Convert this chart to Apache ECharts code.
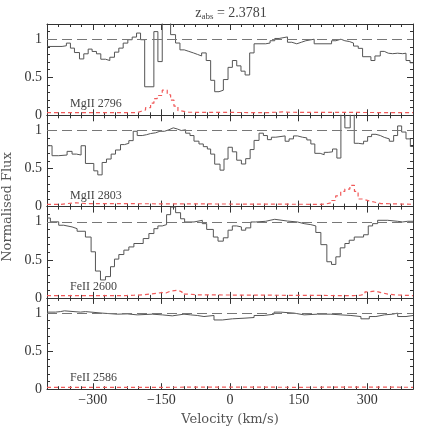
<!DOCTYPE html>
<html><head><meta charset="utf-8">
<script src="https://cdn.jsdelivr.net/npm/echarts@6/dist/echarts.min.js"></script>
<style>html,body{margin:0;padding:0;background:#fff}#c{width:436px;height:436px}</style>
</head><body><div id="c"></div>
<script>
// ---------- data ----------
const velocityRange = [-400, 400];
const majorVelTicks = [-300, -150, 0, 150, 300];
const fluxTicks = [0, 0.5, 1];
const panelNames = ['MgII 2796', 'MgII 2803', 'FeII 2600', 'FeII 2586'];
const zAbs = '2.3781';

// MgII 2796: bin left edges (km/s) and normalised flux
const mg2796Vel = [-400,-367,-357.6,-348.8,-340,-329,-319.6,-310,-301.4,-291.9,
  -282.4,-272,-262.7,-252.5,-243,-233.5,-223.3,-213.8,-204.3,-195.5,
  -186.5,-166.4,-157.6,-148.1,-129.8,-119,-109.4,-100,-90,-80,
  -71,-62,-52,-42.3,-33.5,-24,-14.5,-4.3,5.2,14.7,
  24,33,43,52.6,78,87.6,97.8,107.3,125.6,135,
  146,156,165.7,184,222,231.4,242.4,251,260.6,270,
  280.3,289.8,308,316.8,328.5,337.2,346,355.5,366.5,377.4,
  384.7,393.5,400];
const mg2796Flux = [0.905,0.914,0.949,0.883,0.825,0.741,0.808,0.87,0.839,0.808,
  0.737,0.72,0.763,0.83,0.883,0.949,0.993,1.028,1.081,0.993,
  0.375,1.10,0.706,1.35,1.06,0.95,0.86,0.84,0.82,0.80,
  0.78,0.82,0.72,0.46,0.31,0.33,0.47,0.63,0.72,0.65,
  0.58,0.53,0.82,0.94,0.95,0.98,1.01,1.03,0.96,0.94,
  0.96,0.98,1.0,0.94,0.98,1.0,0.98,0.97,0.95,0.91,
  0.88,0.77,0.72,0.78,0.84,0.816,0.81,0.816,0.81,0.816,
  0.72,0.69,0.69];
const mg2796ErrVel = [-400,-203,-195.5,-184.6,-173.6,-166.3,-159,-148.1,-137.2,-129.8,-122.5,-113.8,-108,-90,85,100,115,130,400];
const mg2796Err = [0.035,0.05,0.07,0.1,0.16,0.22,0.26,0.33,0.27,0.2,0.12,0.06,0.04,0.035,0.04,0.045,0.04,0.035,0.035];

// MgII 2803
const mg2803Vel = [-400,-389,-374.4,-356.1,-345.2,-335.7,-325.5,-316,-297.7,-289,
  -279.5,-270,-259.8,-250.3,-239.3,-230.6,-221.1,-211.6,-202.8,-191.9,
  -182.4,-173.6,-162.7,-153.2,-143,-133.5,-124,-115.2,-106.5,-97,
  -87.5,-78.7,-67.8,-58.3,-49.5,-42.3,-33.5,-21.8,-13.1,-4.3,
  5.1,14.6,24.9,34.3,44,52.6,63.5,73,81.8,90.5,
  100,120.5,129.2,138.7,147.5,158.4,167.9,176.7,185.4,197.1,
  205.9,214.6,224.1,233.6,242.4,251.1,262.8,271.6,280.3,292,
  300.8,309.5,319,328.5,337.2,348.2,357.7,366.4,375.2,384.7,
  394.2,400];
const mg2803Flux = [0.80,0.669,0.678,0.726,0.69,0.678,0.80,0.567,0.47,0.417,
  0.58,0.625,0.69,0.744,0.815,0.832,0.867,0.99,0.934,0.945,
  0.96,0.97,0.99,0.99,1.01,1.035,1.02,1.0,1.01,0.965,
  0.934,0.86,0.823,0.788,0.757,0.69,0.558,0.479,0.625,0.78,
  0.72,0.61,0.56,0.63,0.75,0.87,0.965,0.934,0.88,0.912,
  0.929,0.859,0.89,0.929,0.912,0.903,0.876,0.823,0.70,0.682,
  0.713,0.72,0.757,0.638,1.35,1.035,1.35,0.832,0.823,0.859,
  0.92,0.95,0.934,0.91,0.89,0.859,0.934,1.06,0.98,0.89,
  0.79,0.79];
const mg2803ErrVel = [-400,-370,-355,-335,-315,195,210,222,231,242,251,262,272,280,290,304,315,330,400];
const mg2803Err = [0.03,0.04,0.05,0.04,0.03,0.035,0.05,0.08,0.14,0.2,0.23,0.28,0.2,0.1,0.075,0.06,0.04,0.03,0.03];

// FeII 2600
const fe2600Vel = [-400,-392.6,-374.4,-363.4,-345.2,-334.2,-316,-303.6,-294.1,-283.1,
  -272.2,-261.2,-252.5,-243,-232,-221.1,-210.1,-189.7,-177.3,-166.3,
  -157.6,-148.1,-138.6,-129.8,-118.9,-108,-99.2,-78.7,-60.5,-51,
  -36.4,-26.2,-14.6,-4.3,5.1,14.6,24.9,34.3,45.3,56.2,
  78.1,87.6,97.8,125.6,147.5,162,176.7,187.6,198.6,211.7,
  221.9,231.4,240.9,251.1,260.6,271.6,292,302.2,311.7,322.7,
  344.6,366.4,377.4,388.4,400];
const fe2600Flux = [1.05,1.0,0.955,0.933,0.91,0.876,0.8,0.606,0.353,0.236,
  0.28,0.41,0.51,0.57,0.628,0.67,0.715,0.78,0.846,0.91,
  0.946,0.963,1.094,1.194,1.12,1.04,0.998,1.02,0.976,0.9,
  0.8,0.746,0.79,0.89,0.946,0.933,0.89,0.92,0.998,1.007,
  1.02,1.033,1.01,0.998,0.976,0.963,0.946,0.86,0.7,0.475,
  0.44,0.54,0.658,0.715,0.758,0.8,0.83,0.946,0.976,1.02,
  1.007,0.998,1.007,1.007,1.007];
const fe2600ErrVel = [-400,-230,-210,-190,-175,-160,-150,-140,-130,-115,-105,-90,-70,270,285,295,305,318,330,345,360,400];
const fe2600Err = [0.03,0.035,0.04,0.05,0.06,0.07,0.065,0.09,0.1,0.08,0.05,0.04,0.03,0.035,0.05,0.08,0.09,0.07,0.05,0.04,0.03,0.03];

// FeII 2586
const fe2586Vel = [-400,-381.7,-370.7,-362,-326.9,-316,-279.5,-246.6,-224.7,-202.8,
  -170,-148.1,-126.2,-100.6,-86,-71.4,-56.9,-35,-16.7,5.2,
  30.7,52.6,74.5,96.4,111,140.2,162.1,191.3,220.5,242.4,
  264.3,286.2,304.5,319,337.3,355.5,366.5,384.7,400];
const fe2586Flux = [1.013,1.02,1.03,1.013,1.02,1.0,0.986,0.99,0.977,0.986,
  0.977,0.964,0.986,0.977,0.969,0.955,0.969,0.91,0.925,0.933,
  0.942,0.969,0.986,1.013,1.0,0.977,0.986,0.986,0.977,0.969,
  0.955,0.925,0.955,0.977,0.986,1.0,0.955,0.969,0.969];
const fe2586ErrVel = [-400,-150,0,150,300,400];
const fe2586Err = [0.025,0.028,0.025,0.028,0.025,0.025];

const panelVel = [mg2796Vel, mg2803Vel, fe2600Vel, fe2586Vel];
const panelFlux = [mg2796Flux, mg2803Flux, fe2600Flux, fe2586Flux];
const panelErrVel = [mg2796ErrVel, mg2803ErrVel, fe2600ErrVel, fe2586ErrVel];
const panelErr = [mg2796Err, mg2803Err, fe2600Err, fe2586Err];

// ---------- layout / style ----------
const SERIF = '"Liberation Serif", "DejaVu Serif", serif';
const AXIS_COL = '#333';
const gridLeft = 47, gridRight = 23, gridTop0 = 24, gridH = 91.3;

const grids = [], xAxes = [], yAxes = [], series = [], graphics = [];

function xAxis(g, pos, major, showLabel) {
  const a = {type: 'value', gridIndex: g, position: pos, min: velocityRange[0], max: velocityRange[1],
    axisLine: {show: !major, onZero: false, lineStyle: {color: AXIS_COL, width: 1}},
    axisTick: {show: true, inside: true, length: major ? 6 : 3, lineStyle: {color: AXIS_COL}},
    axisLabel: {show: false}, splitLine: {show: false}};
  if (major) {
    a.axisTick.customValues = majorVelTicks;
    a.axisLabel = {show: showLabel, customValues: majorVelTicks, color: '#333', fontFamily: SERIF, fontSize: 14, margin: 4,
      formatter: v => (v < 0 ? '\u2212' : '') + Math.abs(v)};
  } else {
    a.interval = 25;
  }
  return a;
}
function yAxis(g, pos, major, showLabel) {
  const a = {type: 'value', gridIndex: g, position: pos, min: 0, max: 1.2,
    axisLine: {show: !major, onZero: false, lineStyle: {color: AXIS_COL, width: 1}},
    axisTick: {show: true, inside: true, length: major ? 6 : 3, lineStyle: {color: AXIS_COL}},
    axisLabel: {show: false}, splitLine: {show: false}};
  if (major) {
    a.axisTick.customValues = fluxTicks;
    a.axisLabel = {show: showLabel, customValues: fluxTicks, color: '#333', fontFamily: SERIF, fontSize: 14, margin: 5,
      formatter: v => String(v)};
  } else {
    a.interval = 0.1;
  }
  return a;
}

for (let g = 0; g < 4; g++) {
  const top = gridTop0 + g * gridH;
  grids.push({left: gridLeft, right: gridRight, top: top, height: gridH, containLabel: false});
  xAxes.push(xAxis(g, 'bottom', false, false), xAxis(g, 'bottom', true, g === 3),
             xAxis(g, 'top', false, false), xAxis(g, 'top', true, false));
  yAxes.push(yAxis(g, 'left', false, false), yAxis(g, 'left', true, true),
             yAxis(g, 'right', false, false), yAxis(g, 'right', true, false));
  const flux = panelVel[g].map((v, i) => [v, panelFlux[g][i]]);
  const err = panelErrVel[g].map((v, i) => [v, panelErr[g][i]]);
  series.push({type: 'line', xAxisIndex: 4 * g, yAxisIndex: 4 * g, data: err, step: 'end', showSymbol: false,
    silent: true, z: 2, lineStyle: {color: '#f05a5a', width: 1.2, type: [4, 3]}});
  series.push({type: 'line', xAxisIndex: 4 * g, yAxisIndex: 4 * g, data: flux, step: 'end', showSymbol: false,
    silent: true, z: 3, lineStyle: {color: '#555', width: 1},
    markLine: {silent: true, symbol: 'none', label: {show: false}, animation: false,
      lineStyle: {type: [10, 5], color: '#777', width: 1}, data: [{yAxis: 1}]}});
  graphics.push({type: 'text', x: 70, y: top + gridH - 11,
    style: {text: panelNames[g], fill: '#444', font: '12px ' + SERIF, textVerticalAlign: 'middle', verticalAlign: 'middle'}});
}

graphics.push({type: 'text', x: 8, y: 207, rotation: Math.PI / 2,
  style: {text: 'Normalised Flux', fill: '#555', font: '13px "DejaVu Serif", serif', align: 'center', verticalAlign: 'middle',
    textAlign: 'center', textVerticalAlign: 'middle'}});
graphics.push({type: 'text', x: 230, y: 420,
  style: {text: 'Velocity (km/s)', fill: '#555', font: '13px "DejaVu Serif", serif', align: 'center', verticalAlign: 'middle',
    textAlign: 'center', textVerticalAlign: 'middle'}});
graphics.push({type: 'text', x: 231, y: 13,
  style: {text: '{z|z}{s|abs}{z| = ' + zAbs + '}', align: 'center', verticalAlign: 'middle',
    textAlign: 'center', textVerticalAlign: 'middle',
    rich: {z: {fontFamily: SERIF, fontSize: 14, fill: '#444', color: '#444', lineHeight: 16},
           s: {fontFamily: SERIF, fontSize: 9, fill: '#444', color: '#444', lineHeight: 9, verticalAlign: 'bottom'}}}});

const chart = echarts.init(document.getElementById('c'), null, {renderer: 'canvas'});
chart.setOption({
  animation: false,
  backgroundColor: '#fff',
  grid: grids, xAxis: xAxes, yAxis: yAxes, series: series, graphic: graphics
});
</script></body></html>
